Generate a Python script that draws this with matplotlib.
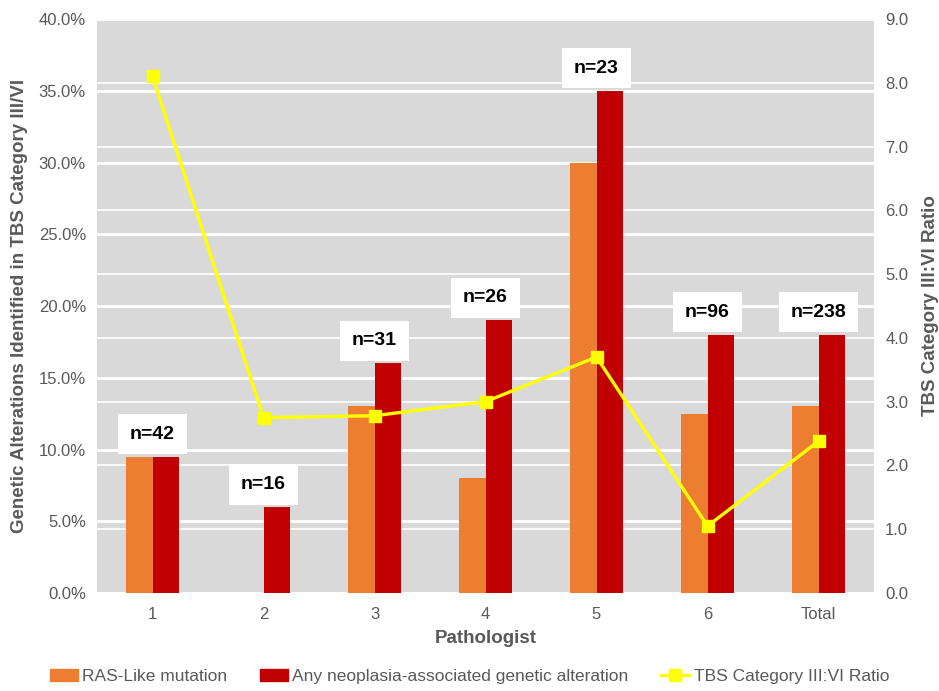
import numpy as np
import matplotlib.pyplot as plt
from matplotlib.patches import Patch
from matplotlib.lines import Line2D
from matplotlib.ticker import FuncFormatter

plt.rcParams['font.family'] = ['Liberation Sans', 'DejaVu Sans']

pathologists = ['1', '2', '3', '4', '5', '6', 'Total']
ras_like = [9.5, 0.0, 13.0, 8.0, 30.0, 12.5, 13.0]
any_alt = [9.5, 6.0, 16.0, 19.0, 35.0, 18.0, 18.0]
ratio = [8.1, 2.75, 2.78, 3.0, 3.7, 1.05, 2.38]
n_cases = [42, 16, 31, 26, 23, 96, 238]

orange = '#ed7d31'
red = '#c00000'
yellow = '#ffff00'
grey = '#595959'

fig = plt.figure(figsize=(9.39, 6.91), dpi=100)
ax = fig.add_axes([0.1033, 0.1418, 0.8275, 0.8307])
ax.set_facecolor('#d9d9d9')

x = np.arange(len(pathologists))
w = 0.24
ax.bar(x - w / 2, ras_like, w, color=orange, zorder=3)
ax.bar(x + w / 2, any_alt, w, color=red, zorder=3)

ax.set_xlim(-0.5, len(pathologists) - 0.5)
ax.set_ylim(0, 40)
ax.set_yticks(np.arange(0, 41, 5))
ax.yaxis.set_major_formatter(FuncFormatter(lambda v, p: f'{v:.1f}%'))
ax.set_xticks(x)
ax.set_xticklabels(pathologists)

# left-axis grid (thicker) and right-axis grid (thinner), both behind the bars
for v in np.arange(0, 41, 5):
    ax.axhline(v, color='white', lw=2.0, zorder=1)
for v in np.arange(0, 10, 1):
    ax.axhline(v * 40 / 9, color='white', lw=1.2, zorder=1)

for s in ax.spines.values():
    s.set_visible(False)
ax.tick_params(length=0, labelsize=12, labelcolor=grey, pad=8)
ax.tick_params(axis='x', pad=10)

ax.set_xlabel('Pathologist', fontsize=13.5, fontweight='bold', color=grey, labelpad=6)
ax.set_ylabel('Genetic Alterations Identified in TBS Category III/VI', fontsize=13.5,
              fontweight='bold', color=grey, labelpad=8)

# n labels above each pair of bars
for i, n in enumerate(n_cases):
    top = max(ras_like[i], any_alt[i])
    ax.annotate(f'n={n}', (x[i], top), xytext=(0, 14), textcoords='offset pixels',
                ha='center', va='bottom', fontsize=14, fontweight='bold', color='black',
                bbox=dict(boxstyle='square,pad=0.6', fc='white', ec='none'), zorder=5)

ax2 = ax.twinx()
ax2.set_ylim(0, 9)
ax2.set_yticks(np.arange(0, 10, 1))
ax2.yaxis.set_major_formatter(FuncFormatter(lambda v, p: f'{v:.1f}'))
ax2.plot(x, ratio, color=yellow, lw=2.4, marker='s', markersize=9, zorder=4)
for s in ax2.spines.values():
    s.set_visible(False)
ax2.tick_params(length=0, labelsize=12, labelcolor=grey, pad=8)
ax2.set_ylabel('TBS Category III:VI Ratio', fontsize=13.5, fontweight='bold',
               color=grey, labelpad=10)

handles = [Patch(color=orange), Patch(color=red),
           Line2D([], [], color=yellow, lw=2.4, marker='s', markersize=9)]
labels = ['RAS-Like mutation', 'Any neoplasia-associated genetic alteration',
          'TBS Category III:VI Ratio']
fig.legend(handles, labels, loc='lower center', bbox_to_anchor=(0.5, -0.012), ncol=3,
           frameon=False, fontsize=12.5, labelcolor=grey, columnspacing=1.9,
           handlelength=1.6, handletextpad=0.25)

fig.savefig('out.png', dpi=100, facecolor='white')
